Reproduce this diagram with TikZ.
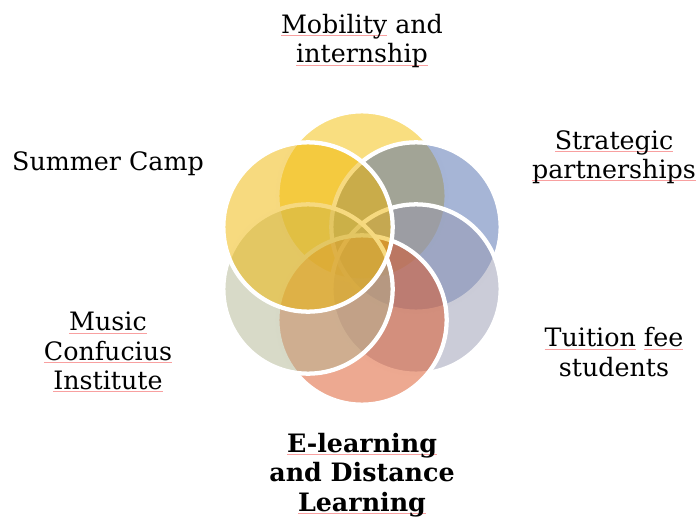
\documentclass[tikz,border=0pt]{standalone}
\usepackage{fontspec}
\setmainfont{DejaVu Serif}

% petal colours (drawn at half opacity)
\definecolor{petalA}{RGB}{243,190,2}
\definecolor{petalB}{RGB}{77,107,173}
\definecolor{petalC}{RGB}{151,153,177}
\definecolor{petalD}{RGB}{219,83,35}
\definecolor{petalE}{RGB}{177,181,145}
\definecolor{petalF}{RGB}{239,181,0}
\definecolor{spellred}{RGB}{248,160,160}

% word with a thin red proofing mark under it
\newsavebox\spellbox
\newcommand\spellmark[1]{\sbox\spellbox{#1}\rlap{\textcolor{spellred}{\rule[-1.8pt]{\wd\spellbox}{0.4pt}}}\usebox\spellbox}

\begin{document}
\begin{tikzpicture}[x=0.75pt,y=-0.75pt,
  petal/.style={circle, minimum size=127pt, inner sep=0pt, draw=white, line width=3.2pt, fill opacity=0.5},
  lbl/.style={align=center, font=\fontsize{19}{22}\selectfont, text=black, inner sep=0pt}]
\useasboundingbox (0,0) rectangle (699,517);

% six overlapping circles, clockwise from the top
\node[petal, fill=petalA] (p1) at (362,196) {};
\node[petal, fill=petalB] (p2) at (416,227) {};
\node[petal, fill=petalC] (p3) at (416,289) {};
\node[petal, fill=petalD] (p4) at (362,320) {};
\node[petal, fill=petalE] (p5) at (308,289) {};
\node[petal, fill=petalF] (p6) at (308,227) {};

% labels
\node[lbl] (l1) at (362,41) {\spellmark{Mobility} and\\\spellmark{internship}};
\node[lbl] (l2) at (614,157) {\spellmark{Strategic}\\\spellmark{partnerships}};
\node[lbl] (l3) at (614,352) {\spellmark{Tuition} \spellmark{fee}\\students};
\node[lbl] (l4) at (362,475) {\bfseries\spellmark{E-learning}\\\bfseries and Distance\\\bfseries\spellmark{Learning}};
\node[lbl] (l5) at (108,352) {\spellmark{Music}\\\spellmark{Confucius}\\\spellmark{Institute}};
\node[lbl] (l6) at (108,164) {Summer Camp};
\end{tikzpicture}
\end{document}
